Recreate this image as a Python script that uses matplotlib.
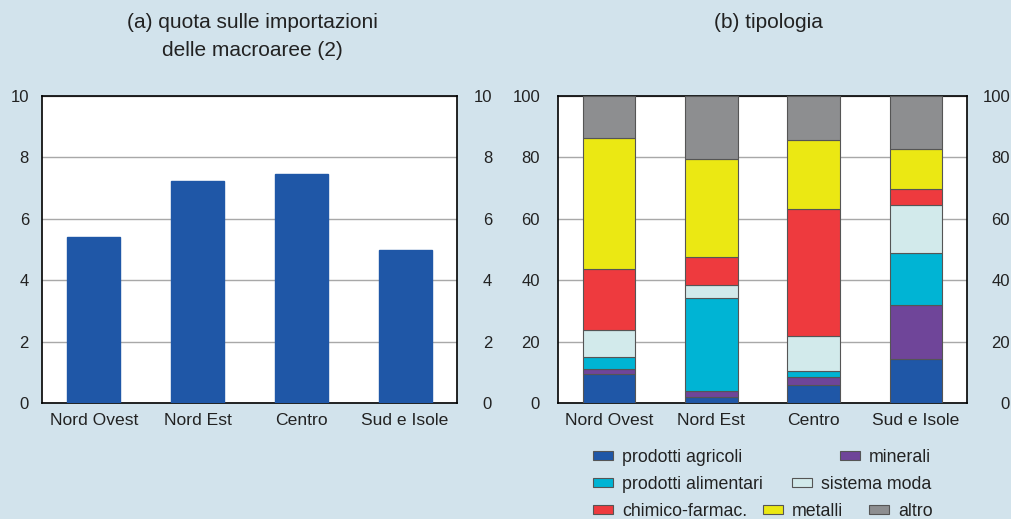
import matplotlib.pyplot as plt
from matplotlib.patches import Rectangle
from matplotlib.transforms import blended_transform_factory

plt.rcParams['font.family'] = ['Liberation Sans', 'DejaVu Sans']

regioni = ['Nord Ovest', 'Nord Est', 'Centro', 'Sud e Isole']
quota = [5.42, 7.23, 7.47, 5.0]

settori = ['prodotti agricoli', 'minerali', 'prodotti alimentari', 'sistema moda',
           'chimico-farmac.', 'metalli', 'altro']
colori = ['#1f57a7', '#6f4599', '#00b4d4', '#d2eaeb', '#ee3a3e', '#ebe813', '#8d8e90']
agricoli = [9.3, 1.85, 5.9, 14.2]
minerali = [1.7, 1.95, 2.5, 17.6]
alimentari = [3.9, 30.3, 2.1, 17.0]
moda = [8.8, 4.4, 11.4, 15.6]
chimico = [19.8, 8.9, 41.2, 5.3]
metalli = [42.9, 32.2, 22.7, 12.9]
altro = [13.6, 20.4, 14.2, 17.4]
serie = [agricoli, minerali, alimentari, moda, chimico, metalli, altro]

bg = '#d2e3ec'
txt = '#222222'
fig = plt.figure(figsize=(10.11, 5.19), dpi=100, facecolor=bg)
W, H = 1011, 519
PT = 0.72  # px -> pt


def make_ax(x0, x1, y0, y1):
    return fig.add_axes([x0 / W, 1 - y1 / H, (x1 - x0) / W, (y1 - y0) / H])


def style(ax, ymax, step, pad_l, x_right):
    ax.set_ylim(0, ymax)
    ax.set_xlim(-0.5, 3.5)
    ax.set_yticks(range(0, ymax + 1, step))
    ax.yaxis.grid(True, color='#a8a8a8', lw=1)
    ax.set_axisbelow(True)
    ax.tick_params(axis='y', length=0, labelsize=12, labelcolor=txt, pad=pad_l * PT)
    ax.tick_params(axis='x', length=0, labelsize=12.6, pad=7, labelcolor=txt)
    ax.set_xticks(range(len(regioni)))
    ax.set_xticklabels(regioni)
    for s in ax.spines.values():
        s.set_color('black')
        s.set_linewidth(1.2)
    # etichette di destra, allineate a destra
    tr = blended_transform_factory(fig.transFigure, ax.transData)
    for v in ax.get_yticks():
        ax.text(x_right / W, v, f'{int(v)}', transform=tr, ha='right',
                va='center_baseline', fontsize=12, color=txt, clip_on=False)


# (a)
ax1 = make_ax(42, 457, 96, 403)
ax1.bar(range(len(regioni)), quota, width=0.51, color='#1f57a7', edgecolor='#1f57a7', zorder=3)
style(ax1, 10, 2, 13, 492)
fig.text(252 / W, 1 - 23 / H, '(a) quota sulle importazioni', ha='center', va='center',
         fontsize=15, color=txt)
fig.text(252 / W, 1 - 50 / H, 'delle macroaree (2)', ha='center', va='center',
         fontsize=15, color=txt)

# (b)
ax2 = make_ax(558, 967, 96, 403)
bottom = [0] * len(regioni)
for nome, vals, c in zip(settori, serie, colori):
    ax2.bar(range(len(regioni)), vals, bottom=bottom, width=0.515, color=c,
            edgecolor='#555555', linewidth=0.8, zorder=3, label=nome)
    bottom = [b + v for b, v in zip(bottom, vals)]
style(ax2, 100, 20, 18, 1010)
fig.text(768 / W, 1 - 23 / H, '(b) tipologia', ha='center', va='center',
         fontsize=15, color=txt)

# legenda
voci = [(0, 593, 455), (1, 840, 455), (2, 593, 482.5), (3, 792, 482.5),
        (4, 593, 509.5), (5, 763, 509.5), (6, 869, 509.5)]
for i, x, y in voci:
    fig.patches.append(Rectangle((x / W, 1 - (y + 4.5) / H), 20 / W, 9 / H,
                                 transform=fig.transFigure, facecolor=colori[i],
                                 edgecolor='#555555', linewidth=0.8))
    fig.text((x + 29) / W, 1 - y / H, settori[i], ha='left', va='center_baseline',
             fontsize=12.8, color=txt)

fig.savefig('out.png', dpi=100, facecolor=bg)
